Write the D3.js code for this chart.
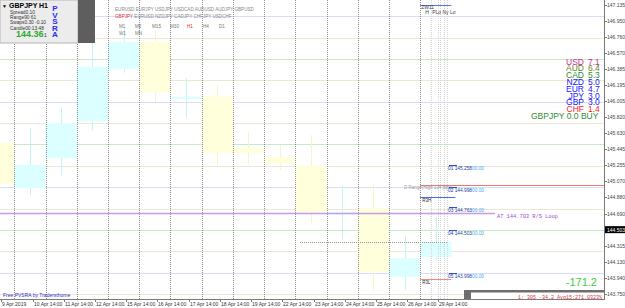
<!DOCTYPE html>
<html>
<head>
<meta charset="utf-8">
<script src="https://d3js.org/d3.v7.min.js"></script>
<style>
  body { margin: 0; background: #fff; }
  svg { display: block; }
  text { font-family: Arial, "Liberation Sans", sans-serif; }
  .mono { font-family: "Liberation Mono", "DejaVu Sans Mono", monospace; }
</style>
</head>
<body>
<div id="chart"></div>
<script>
// ---- data ----
// trading days shown (index 0 = 9 Apr, partly cut off on the left)
var days   = ["9 Apr","10 Apr","11 Apr","12 Apr","15 Apr","16 Apr","17 Apr","18 Apr","19 Apr","22 Apr","23 Apr","24 Apr","25 Apr","26 Apr","29 Apr"];
var opens  = [145.52, 144.99, 145.34, 145.77, 146.38, 146.70, 146.03, 146.06, 145.46, 145.35, 145.25, 144.68, 144.76, 143.95, 144.18];
var closes = [145.03, 145.26, 145.75, 146.41, 146.70, 146.11, 146.06, 145.40, 145.40, 145.28, 144.70, 144.71, 144.01, 144.17, 144.36];
var highs  = [145.70, 145.69, 145.93, 146.69, 146.86, 146.84, 146.28, 146.20, 145.65, 145.49, 145.61, 145.02, 145.03, 144.43, 144.65];
var lows   = [144.95, 144.91, 145.14, 145.67, 146.34, 146.00, 145.81, 145.26, 145.28, 145.20, 144.58, 144.38, 143.80, 143.80, 144.15];

var priceTicks = [147.135, 146.950, 146.760, 146.570, 146.385, 146.195, 146.005, 145.820, 145.630,
                  145.445, 145.255, 145.070, 144.880, 144.690, 144.315, 144.130, 143.940, 143.750];
var lastPrice = 144.503;
var dateLabels = ["9 Apr 2019","10 Apr 14:00","11 Apr 14:00","12 Apr 14:00","15 Apr 14:00","16 Apr 14:00","17 Apr 14:00",
                  "18 Apr 14:00","19 Apr 14:00","22 Apr 14:00","23 Apr 14:00","24 Apr 14:00","25 Apr 14:00","26 Apr 14:00","29 Apr 14:00"];

// round-number grid levels (x.00, x.50, x.25/x.75)
var wholeLevels   = [147.0, 146.0, 145.0, 144.0];
var halfLevels    = [146.5, 145.5, 144.5];
var quarterLevels = [146.75, 146.25, 145.75, 145.25, 144.75, 144.25, 143.75];

// pivot-like levels on the current day
var levelNames  = ["01","02","03","04","05"];
var levelPrices = [145.258, 144.998, 144.763, 144.503, 143.998];
var rangeHigh = 145.02, r3h = 144.89, r3l = 143.92;
var loopLevel = 144.703;

// currency strength panel
var ccyNames  = ["USD","AUD","CAD","NZD","EUR","JPY","GBP","CHF"];
var ccyValues = [7.1, 6.4, 5.3, 5.0, 4.7, 3.0, 3.0, 1.4];
var ccyColors = ["#cc2a8c","#5a8a1e","#2e8b2e","#1a1aff","#1a1aff","#1a1aff","#1a1aff","#ff2020"];

var symbolsRow1 = ["EURUSD","EURJPY","USDJPY","USDCAD","AUDUSD","AUDJPY","GBPUSD"];
var symbolsRow2 = ["GBPJPY","EURUSD","NZDJPY","CADJPY","CHFJPY","USDCHF"];
var periods1 = ["M1","M5","M15","M30","H1","H4","D1"];
var periods2 = ["W1","MN"];

// ---- layout ----
var W = 625, H = 308;
var plotR = 604, plotB = 299;

var svg = d3.select("#chart").append("svg").attr("width", W).attr("height", H);

// hours since 9 Apr 00:00 counted over trading days -> pixels
var x = d3.scaleLinear().domain([0, 15 * 24]).range([-16.9, 451.4]);
var y = d3.scaleLinear().domain([143.75, 147.135]).range([294, 4.7]);

svg.append("clipPath").attr("id", "plot")
  .append("rect").attr("x", 0).attr("y", 0).attr("width", plotR).attr("height", plotB);

var g = svg.append("g").attr("clip-path", "url(#plot)");

// horizontal level grid
function hlines(vals, color) {
  g.selectAll(null).data(vals).enter().append("line")
    .attr("x1", 0).attr("x2", plotR)
    .attr("y1", function(d) { return Math.round(y(d)) + 0.5; })
    .attr("y2", function(d) { return Math.round(y(d)) + 0.5; })
    .attr("stroke", color).attr("stroke-width", 1);
}
hlines(quarterLevels, "#ece6d4");
hlines(halfLevels, "#c6eac6");
hlines(wholeLevels, "#dcdcfa");

// daily boxes
var idx = d3.range(days.length);
g.selectAll(".wick").data(idx).enter().append("line")
  .attr("x1", function(i) { return Math.round(x(i * 24 + 12)) + 0.5; })
  .attr("x2", function(i) { return Math.round(x(i * 24 + 12)) + 0.5; })
  .attr("y1", function(i) { return y(highs[i]); })
  .attr("y2", function(i) { return y(lows[i]); })
  .attr("stroke", function(i) { return closes[i] >= opens[i] ? "#c2f4f4" : "#f6f6c0"; });

g.selectAll(".box").data(idx).enter().append("rect")
  .attr("x", function(i) { return x(i * 24); })
  .attr("width", function(i) { return x((i + 1) * 24) - x(i * 24); })
  .attr("y", function(i) { return y(Math.max(opens[i], closes[i])); })
  .attr("height", function(i) { return Math.max(1.5, Math.abs(y(opens[i]) - y(closes[i]))); })
  .attr("fill", function(i) { return closes[i] >= opens[i] ? "#dcffff" : "#ffffdc"; });

// day separators
g.selectAll(".sep").data(d3.range(1, 15)).enter().append("line")
  .attr("x1", function(i) { return Math.round(x(i * 24)) + 0.5; })
  .attr("x2", function(i) { return Math.round(x(i * 24)) + 0.5; })
  .attr("y1", 0).attr("y2", plotB)
  .attr("stroke", "#8c8c8c").attr("stroke-dasharray", "1,1");

// session columns of the current day
var sessHours = [14 * 24 + 8, 14 * 24 + 14, 14 * 24 + 15, 14 * 24 + 18, 14 * 24 + 21];
g.selectAll(".sess").data(sessHours).enter().append("line")
  .attr("x1", function(h) { return Math.round(x(h)) + 0.5; })
  .attr("x2", function(h) { return Math.round(x(h)) + 0.5; })
  .attr("y1", 0).attr("y2", plotB)
  .attr("stroke", "#d4d4d4").attr("stroke-dasharray", "1,1");
g.append("line").attr("x1", x(14 * 24)).attr("x2", x(15 * 24))
  .attr("y1", 5.5).attr("y2", 5.5).attr("stroke", "#5a78e0");
g.append("text").attr("x", x(14 * 24) + 1).attr("y", 9).attr("font-size", 5).attr("fill", "#444").text("ZW11");
g.append("text").attr("x", x(14 * 24) + 5).attr("y", 14).attr("font-size", 5).attr("fill", "#444").text("H");
g.append("text").attr("x", x(14 * 24) + 12).attr("y", 14).attr("font-size", 5).attr("fill", "#444").text("PLo Ny Lo");

// price dotted line near the current close
g.append("line").attr("x1", 300).attr("x2", x(15 * 24) - 4)
  .attr("y1", Math.round(y(closes[14])) + 0.5).attr("y2", Math.round(y(closes[14])) + 0.5)
  .attr("stroke", "#999").attr("stroke-dasharray", "1,1");

// daily range high (red) and R3 high / low
g.append("line").attr("x1", x(14 * 24)).attr("x2", plotR)
  .attr("y1", Math.round(y(rangeHigh)) + 0.5).attr("y2", Math.round(y(rangeHigh)) + 0.5)
  .attr("stroke", "#f07a6a");
g.append("text").attr("x", 404).attr("y", y(rangeHigh) + 3.5).attr("font-size", 4.5).attr("fill", "#999")
  .text("D Range(High 134 pips)");
g.append("line").attr("x1", x(14 * 24)).attr("x2", x(15 * 24) + 4)
  .attr("y1", Math.round(y(r3h)) + 0.5).attr("y2", Math.round(y(r3h)) + 0.5).attr("stroke", "#4a6ae8");
g.append("text").attr("x", x(14 * 24) + 2).attr("y", y(r3h) + 5).attr("font-size", 4.5).attr("fill", "#223").text("R3H");
g.append("line").attr("x1", x(14 * 24)).attr("x2", x(15 * 24))
  .attr("y1", Math.round(y(r3l)) + 0.5).attr("y2", Math.round(y(r3l)) + 0.5).attr("stroke", "#f08a80");
g.append("text").attr("x", x(14 * 24) + 2).attr("y", y(r3l) + 5).attr("font-size", 4.5).attr("fill", "#223").text("R3L");

// loop level
g.append("line").attr("x1", 0).attr("x2", 495)
  .attr("y1", Math.round(y(loopLevel)) + 0.5).attr("y2", Math.round(y(loopLevel)) + 0.5)
  .attr("stroke", "#c89be6").attr("stroke-width", 1.5);
g.append("text").attr("class", "mono").attr("x", 497).attr("y", y(loopLevel) + 5.5)
  .attr("font-size", 5.5).attr("fill", "#a050d0").attr("textLength", 61)
  .text("AT  144.703  R/S Loop");

// numbered levels
var lv = g.selectAll(".lvl").data(d3.range(levelPrices.length)).enter().append("g");
lv.append("line").attr("x1", 449).attr("x2", 457)
  .attr("y1", function(i) { return Math.round(y(levelPrices[i])) + 0.5; })
  .attr("y2", function(i) { return Math.round(y(levelPrices[i])) + 0.5; })
  .attr("stroke", "#3050d0");
lv.append("text").attr("x", 448).attr("y", function(i) { return y(levelPrices[i]) + 5; })
  .attr("font-size", 4.8).attr("fill", "#2040a0")
  .text(function(i) { return levelNames[i] + " " + levelPrices[i].toFixed(3); });
lv.append("text").attr("x", 472).attr("y", function(i) { return y(levelPrices[i]) + 5; })
  .attr("font-size", 4.8).attr("fill", "#44aaee").text("00.00");

// currency strength (tightly stacked, as in the terminal)
var cs = g.selectAll(".ccy").data(d3.range(ccyNames.length)).enter().append("g")
  .attr("fill", function(i) { return ccyColors[i]; });
cs.append("text").attr("x", 584).attr("y", function(i) { return 64.5 + i * 6.8; })
  .attr("text-anchor", "end").attr("font-size", 8.5).text(function(i) { return ccyNames[i]; });
cs.append("text").attr("x", 588).attr("y", function(i) { return 64.5 + i * 6.8; })
  .attr("font-size", 8.5).text(function(i) { return ccyValues[i].toFixed(1); });
g.append("text").attr("x", 531).attr("y", 64.5 + 8 * 6.8).attr("font-size", 8.5).attr("fill", "#2e8b2e")
  .text("GBPJPY 0.0 BUY");

// total
g.append("text").attr("x", 597).attr("y", 286).attr("text-anchor", "end")
  .attr("font-size", 11).attr("fill", "#44cc44").text("-171.2");

// bottom info box
g.append("rect").attr("x", 464).attr("y", 290).attr("width", 140).attr("height", 10).attr("fill", "#6e6e6e");
g.append("rect").attr("x", 471).attr("y", 292.5).attr("width", 133).attr("height", 8).attr("fill", "#fff");
g.append("text").attr("class", "mono").attr("x", 602).attr("y", 298.5).attr("text-anchor", "end")
  .attr("font-size", 5).attr("fill", "#e03030").text("1: 305 -34.2 Avg15:271.0323%");

g.append("text").attr("x", 3).attr("y", 297).attr("font-size", 5).attr("fill", "#2a2ad0")
  .text("Free PVSRA by Tradersthome");

// top-left info panel
g.append("rect").attr("x", 0).attr("y", 0).attr("width", 78).attr("height", 43)
  .attr("fill", "#ececec").attr("stroke", "#b4b4b4");
g.append("rect").attr("x", 78).attr("y", 0).attr("width", 17).attr("height", 43).attr("fill", "#5e5e5e");
g.append("text").attr("x", 2).attr("y", 8).attr("font-size", 5).text("▼");
g.append("text").attr("x", 9).attr("y", 8).attr("font-size", 7).attr("font-weight", "bold").text("GBPJPY");
g.append("text").attr("x", 39).attr("y", 8).attr("font-size", 7).attr("font-weight", "bold").text("H1");
var info = ["Spread0.10", "Range90      61", "Swaps0.30   -0.10", "Candle00:13:48"];
g.selectAll(".info").data(info).enter().append("text")
  .attr("x", 10).attr("y", function(d, i) { return 14 + i * 5.2; })
  .attr("font-size", 4.8).attr("fill", "#333").text(function(d) { return d; });
g.append("text").attr("x", 16).attr("y", 37).attr("font-size", 9).attr("font-weight", "bold")
  .attr("fill", "#2aaa2a").text("144.36");
g.append("text").attr("x", 44).attr("y", 37).attr("font-size", 5).attr("fill", "#333").text("1");
g.selectAll(".pv").data("PVSRA".split("")).enter().append("text")
  .attr("x", 55).attr("y", function(d, i) { return 11 + i * 6.6; })
  .attr("text-anchor", "middle").attr("font-size", 8).attr("font-weight", "bold").attr("fill", "#2a2af0")
  .text(function(d) { return d; });

// symbol / period switch buttons
g.append("text").attr("x", 115).attr("y", 11).attr("font-size", 4.6).attr("fill", "#888")
  .text(symbolsRow1.join("  "));
var r2 = g.append("text").attr("x", 115).attr("y", 18).attr("font-size", 4.6).attr("fill", "#888");
r2.selectAll("tspan").data(symbolsRow2).enter().append("tspan")
  .attr("fill", function(d, i) { return i == 0 ? "#e03030" : "#888"; })
  .text(function(d, i) { return (i ? "  " : "") + d; });
var pX = [119, 135, 152, 170, 187, 203, 219];
g.selectAll(".p1").data(periods1).enter().append("text")
  .attr("x", function(d, i) { return pX[i]; }).attr("y", 28).attr("font-size", 4.6)
  .attr("fill", function(d) { return d == "H1" ? "#e03030" : "#777"; }).text(function(d) { return d; });
g.selectAll(".p2").data(periods2).enter().append("text")
  .attr("x", function(d, i) { return pX[i]; }).attr("y", 34.5).attr("font-size", 4.6)
  .attr("fill", "#777").text(function(d) { return d; });

// frame
svg.append("line").attr("x1", plotR + 0.5).attr("x2", plotR + 0.5).attr("y1", 0).attr("y2", plotB + 1)
  .attr("stroke", "#7a7a7a");
svg.append("line").attr("x1", 0).attr("x2", plotR + 1).attr("y1", plotB + 0.5).attr("y2", plotB + 0.5)
  .attr("stroke", "#7a7a7a");

// price axis
var yAxis = svg.append("g");
yAxis.selectAll(".pt").data(priceTicks).enter().append("g")
  .attr("transform", function(d) { return "translate(0," + Math.round(y(d)) + ")"; })
  .each(function(d) {
    d3.select(this).append("line").attr("x1", plotR).attr("x2", plotR + 3).attr("y1", 0.5).attr("y2", 0.5).attr("stroke", "#7a7a7a");
    d3.select(this).append("text").attr("x", 607).attr("y", 2).attr("font-size", 5).attr("fill", "#444")
      .text(d.toFixed(3));
  });
yAxis.append("rect").attr("x", plotR + 1).attr("y", y(lastPrice) - 3.5).attr("width", 20).attr("height", 7).attr("fill", "#000");
yAxis.append("text").attr("x", 607).attr("y", y(lastPrice) + 2).attr("font-size", 5).attr("fill", "#fff")
  .text(lastPrice.toFixed(3));

// time axis: labels at 14:00 of each day
var xAxis = svg.append("g");
xAxis.selectAll(".dt").data(dateLabels).enter().append("g")
  .attr("transform", function(d, i) { return "translate(" + Math.round(x(i * 24 + 14)) + ",0)"; })
  .each(function(d) {
    d3.select(this).append("line").attr("x1", 0.5).attr("x2", 0.5).attr("y1", plotB).attr("y2", plotB + 3).attr("stroke", "#7a7a7a");
    d3.select(this).append("text").attr("x", 1).attr("y", 306).attr("font-size", 5).attr("fill", "#333").text(d);
  });
</script>
</body>
</html>
